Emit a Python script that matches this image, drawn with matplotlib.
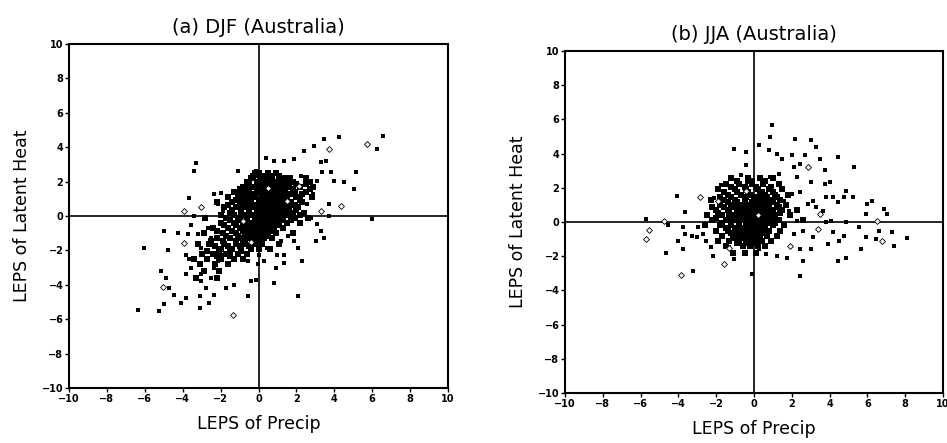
import matplotlib
matplotlib.use("Agg")
import matplotlib.pyplot as plt

# ---------------- Panel (a) DJF ----------------
djf_x_outer = [-6.38, -5.25, -4.97, -6.03, -4.97, -4.8, -5.15, -4.9, -4.7, -4.45, -4.1, -3.83,
               -4.27, -3.66, -3.3, -3.4, -3.39, -3.57, -3.74, -3.83, -3.66, -3.57, -3.83, -3.04,
               -3.04, -2.78, -3.08, -3.08, -2.6, -2.34, -3.22, -3.04, -2.69, -2.51, -2.34, -1.99,
               -2.16, -1.9, -1.99, -2.16, -2.34, -2.51, -1.72, -1.63, -1.28, -1.07, -0.58, -0.4,
               -0.14, -0.58, -0.05, 0.04, 0.39, 0.83, -0.14, -0.05, 1.35, 1.88, 2.41, 2.93, 3.46,
               4.25, 6.27, 6.59, 6.01, 5.04, 5.13, 4.52, 3.99, 3.81, 3.37, 3.55, 3.29, 3.73, 3.73,
               3.46, 3.02, 3.29, 3.11, 2.76, 2.58, 2.32, 2.06, 2.32, 2.06, 1.35, 0.83, 0.91, 0.3,
               0.47, 1.0, 1.35, 1.88, 1.53, 1.18, 2.76, 3.11, 2.93, 2.85, 2.23, 1.7]
djf_y_outer = [-5.45, -5.5, -5.1, -1.85, -0.9, -1.95, -3.2, -3.6, -4.2, -4.6, -5.05, -4.75,
               -0.97, 1.07, 3.1, 2.63, 0.0, -0.5, -1.07, -2.24, -2.5, -3.0, -3.4, -3.4,
               -3.8, -4.2, -4.67, -5.35, -5.06, -4.57, -1.07, -1.85, -0.68, -1.26, 1.26, 1.36,
               0.68, 0.29, -2.24, -2.63, -3.02, -3.6, -4.18, -2.82, -3.99, 2.63, -4.67, -3.8,
               -3.7, -2.63, -2.82, -2.24, 3.4, 3.21, 2.63, 2.33, 3.21, 3.3, 3.8, 4.08, 4.47,
               4.57, 3.89, 4.67, -0.19, 1.56, 2.53, 1.95, 2.04, 2.53, 2.53, 3.21, 3.11, 0.68, 0.0,
               -1.26, -1.46, -0.88, -0.49, -0.1, 0.68, 0.88, -1.85, -2.63, -4.67, -2.72, -3.89, -3.02, -2.63,
               -1.85, -2.24, -2.24, -1.46, -1.17, -1.46, 1.95, 2.04, 1.65, 1.26, 2.33, 2.24]

djf_core_rows_y = [2.5, 2.35, 2.2, 2.0, 1.85, 1.7, 1.55, 1.4, 1.25, 1.1, 0.95, 0.8, 0.65, 0.5,
                   0.35, 0.2, 0.05, -0.1, -0.25, -0.4, -0.55, -0.7, -0.85, -1.0, -1.15,
                   -1.3, -1.45, -1.6, -1.75, -1.9, -2.05, -2.2, -2.35, -2.5, -2.8, -3.2, -3.6]
djf_core_rows_x = [
    [-0.2, 0.0, 0.5, 0.9],
    [-0.3, 0.3, 0.7, 1.1],
    [-0.4, 0.1, 0.6, 1.2, 1.5, 2.5],
    [-0.6, -0.1, 0.3, 0.8, 1.0, 1.3, 1.8, 2.7],
    [-0.5, 0.0, 0.4, 0.7, 1.2, 1.5, 2.0, 2.5],
    [-0.8, -0.3, 0.2, 0.5, 0.9, 1.1, 1.6, 2.2, 2.9],
    [-1.0, -0.6, -0.1, 0.3, 0.7, 1.3, 1.8, 2.7],
    [-1.3, -0.9, -0.5, 0.0, 0.4, 0.7, 1.0, 1.4, 1.9, 2.5],
    [-1.1, -0.7, -0.3, 0.2, 0.5, 0.8, 1.1, 1.7, 2.3],
    [-1.6, -1.0, -0.6, -0.2, 0.3, 0.6, 0.9, 1.2, 1.5, 2.0, 2.8],
    [-1.2, -0.9, -0.5, 0.0, 0.2, 0.5, 1.0, 1.4, 2.2],
    [-2.2, -1.4, -0.8, -0.4, 0.1, 0.4, 0.8, 1.1, 1.3, 1.7, 2.3],
    [-1.6, -1.0, -0.6, -0.2, 0.3, 0.6, 0.9, 1.4, 1.9],
    [-1.8, -1.2, -0.7, -0.3, 0.0, 0.2, 0.5, 0.9, 1.2, 1.6, 2.1],
    [-1.4, -0.9, -0.5, -0.1, 0.1, 0.4, 0.7, 1.1, 1.5, 2.0],
    [-1.5, -0.9, -0.5, -0.1, 0.2, 0.4, 0.7, 1.0, 1.4, 1.8, 2.4],
    [-2.0, -1.3, -0.8, -0.3, 0.0, 0.3, 0.5, 0.8, 1.2, 1.6, 2.2],
    [-2.8, -1.7, -1.1, -0.6, -0.2, 0.1, 0.3, 0.6, 0.9, 1.3, 1.9, 2.6],
    [-1.5, -1.0, -0.6, -0.2, 0.1, 0.4, 0.8, 1.2, 1.7],
    [-2.0, -1.3, -0.8, -0.4, 0.0, 0.3, 0.6, 1.0, 1.5, 2.2],
    [-1.8, -1.2, -0.7, -0.3, 0.0, 0.4, 0.7, 1.1],
    [-2.4, -1.6, -1.0, -0.5, -0.1, 0.2, 0.5, 0.8, 1.3],
    [-2.2, -1.4, -0.8, -0.4, 0.0, 0.3, 0.6],
    [-2.9, -1.9, -1.2, -0.7, -0.3, 0.1, 0.4, 0.9, 1.8],
    [-1.7, -1.1, -0.6, -0.2, 0.2, 0.5],
    [-2.2, -1.5, -0.9, -0.5, -0.1, 0.3, 0.7],
    [-2.5, -1.9, -1.2, -0.8, -0.3, 0.0],
    [-3.2, -2.6, -1.8, -1.2, -0.7, -0.2, 0.2, 1.1],
    [-2.3, -1.6, -1.0, -0.5],
    [-2.0, -1.4, -0.9, -0.4, 0.0, 0.6],
    [-2.7, -2.1, -1.5, -0.9],
    [-3.0, -2.4, -1.7, -1.1, -0.6],
    [-2.2, -1.5],
    [-3.4, -2.7, -2.0, -1.3, -0.8],
    [-3.1, -2.3, -1.6],
    [-2.9, -2.1],
    [-3.3, -2.2],
]

djf_diamond_x = [-5.06, -3.92, -3.04, -3.92, -1.37, 3.73, 5.75, 4.34, 3.29, 2.14, 0.5, -0.8, -0.4, 1.5]
djf_diamond_y = [-4.1, 0.3, 0.53, -1.55, -5.74, 3.89, 4.18, 0.58, 0.29, 1.75, 1.6, -0.3, -1.5, 0.9]

# ---------------- Panel (b) JJA ----------------
jja_x_outer = [-5.69, -4.56, -4.64, -3.22, -4.09, -3.65, -3.74, -3.65, -4.03, -3.74, -3.3, -3.04,
               -2.96, -2.7, -2.52, -2.26, -2.17, -2.09, -1.74, -1.3, -1.04, -0.96, -1.39, -1.04,
               -0.43, -0.43, -0.7, -0.35, -0.09, 0.26, 0.96, 0.87, 0.78, 1.22, 2.17, 3.04, 3.3,
               3.48, 4.43, 3.74, 5.3, 2.7, 2.0, 1.48, 2.09, 2.43, 1.3, 0.87, 2.26, 3.04, 4.0,
               3.74, 4.87, 4.78, 5.22, 4.43, 4.17, 3.83, 6.26, 6.0, 6.87, 7.04, 5.91, 5.57, 6.61,
               6.43, 7.3, 7.39, 8.09, 5.91, 5.65, 4.78, 4.87, 4.43, 4.52, 3.91, 4.17, 3.13, 3.04,
               2.43, 2.61, 2.43, 1.74, 1.22, 0.61, 0.26, 2.09, 2.61, 2.26, 3.65, 3.3, 3.13, 2.87,
               4.09, 4.87, 3.83, 2.43, 2.0, 1.57, 1.83]
jja_y_outer = [0.18, -0.16, -1.84, -2.86, 1.51, 0.57, -0.31, -0.71, -1.14, -1.59, -0.8, -0.9,
               -0.31, -0.71, -1.1, -1.49, -1.98, 1.41, 2.14, -1.49, -2.18, -1.1, -0.51, 4.29,
               4.1, 3.31, 2.73, 2.33, -3.06, 4.49, 5.67, 4.98, 4.2, 4.0, 4.88, 4.78, 4.39,
               3.71, 3.8, 3.02, 3.22, 3.9, 3.9, 3.7, 3.2, 3.41, 2.82, 2.63, 2.63, 2.33, 2.33,
               2.24, 1.84, 1.45, 1.45, 1.16, 1.45, 1.45, 1.25, 1.06, 0.76, 0.47, 0.47, -0.31, -0.51,
               -1.0, -0.61, -1.39, -0.94, -0.9, -1.59, -0.8, -2.08, -2.27, -1.1, -1.29, -0.61, -0.9, -1.59,
               -1.59, -2.27, -3.16, -2.08, -1.98, -1.88, -1.59, -0.71, -0.51, 0.08, 0.67, 0.86, 1.25, 1.06,
               0.08, -0.02, -0.02, 1.75, 1.65, 1.25, 0.67]

jja_core_rows_y = [2.6, 2.4, 2.2, 2.05, 1.9, 1.75, 1.6, 1.45, 1.3, 1.15, 1.0, 0.85, 0.7, 0.55,
                   0.4, 0.25, 0.1, -0.05, -0.2, -0.35, -0.5, -0.65, -0.8, -0.95, -1.1, -1.25,
                   -1.4, -1.8]
jja_core_rows_x = [
    [-1.2, -0.3, 0.3, 1.0],
    [-0.9, -0.1, 0.6],
    [-1.5, -0.8, -0.1, 0.5, 1.3],
    [-1.2, -0.5, 0.1, 0.9],
    [-1.9, -1.0, -0.4, 0.2, 0.8, 1.5],
    [-1.6, -0.9, -0.3, 0.4, 1.0],
    [-1.4, -0.7, -0.2, 0.3, 0.6, 1.1, 1.8],
    [-1.8, -1.2, -0.4, 0.1, 0.7, 1.2],
    [-2.3, -1.6, -1.0, -0.5, 0.0, 0.4, 0.9, 1.4],
    [-1.4, -0.9, -0.5, -0.1, 0.3, 0.7, 1.0],
    [-1.8, -1.2, -0.8, -0.3, 0.1, 0.5, 0.8, 1.2, 1.7],
    [-2.2, -1.6, -1.1, -0.7, -0.4, 0.0, 0.4, 0.8, 1.3],
    [-2.0, -1.4, -0.9, -0.6, -0.2, 0.2, 0.6, 1.0, 1.5, 2.3],
    [-1.9, -1.3, -0.9, -0.5, -0.1, 0.2, 0.5, 0.9, 1.4],
    [-2.5, -1.7, -1.1, -0.7, -0.4, 0.0, 0.3, 0.7, 1.1, 1.9],
    [-2.0, -1.3, -0.8, -0.4, -0.1, 0.2, 0.6, 1.0],
    [-2.2, -1.5, -1.0, -0.6, -0.2, 0.1, 0.5, 0.9, 1.3, 2.6],
    [-1.7, -1.2, -0.8, -0.4, 0.0, 0.3, 0.7, 1.1],
    [-2.6, -1.8, -1.2, -0.8, -0.4, -0.1, 0.2, 0.6, 1.0, 1.6],
    [-1.5, -1.0, -0.6, -0.3, 0.0, 0.3, 0.6],
    [-2.0, -1.4, -0.9, -0.5, -0.2, 0.1, 0.4, 0.8, 1.4],
    [-1.2, -0.8, -0.4, -0.1, 0.2, 0.5],
    [-1.7, -1.1, -0.7, -0.3, 0.0, 0.3, 0.7, 1.2],
    [-1.0, -0.5, -0.1, 0.2],
    [-1.9, -1.3, -0.8, -0.4, 0.0, 0.4, 0.9],
    [-0.9, -0.3, 0.1],
    [-1.5, -0.6, -0.2, 0.2, 0.6],
    [-1.1, -0.5, 0.1],
]

jja_diamond_x = [-5.57, -5.69, -4.78, -3.86, -2.87, -1.88, -1.57, 2.87, 6.52, 6.78, 3.39, 1.91, 3.48, -0.4, 0.2, -1.3]
jja_diamond_y = [-0.47, -1.0, 0.08, -3.1, 1.45, 1.25, -2.47, 3.22, 0.08, -1.1, -0.41, -1.39, 0.47, 1.8, 0.4, -1.5]

ticks = [-10, -8, -6, -4, -2, 0, 2, 4, 6, 8, 10]
tick_labels = [str(t).replace("-", "\u2212") for t in ticks]


def expand_rows(rows_y, rows_x):
    xs, ys = [], []
    for yv, row in zip(rows_y, rows_x):
        for xv in row:
            xs.append(xv)
            ys.append(yv)
    return xs, ys


fig = plt.figure(figsize=(9.47, 4.43), dpi=100)
ax_a = fig.add_axes([0.0729, 0.1242, 0.4002, 0.7765])
ax_b = fig.add_axes([0.5966, 0.1129, 0.3992, 0.7720])

panels = [
    (ax_a, "(a) DJF (Australia)", djf_x_outer, djf_y_outer, djf_core_rows_y, djf_core_rows_x,
     djf_diamond_x, djf_diamond_y),
    (ax_b, "(b) JJA (Australia)", jja_x_outer, jja_y_outer, jja_core_rows_y, jja_core_rows_x,
     jja_diamond_x, jja_diamond_y),
]

for ax, title, xo, yo, cy, cx, dx, dy in panels:
    ax.axhline(0, color="black", lw=1.2, zorder=1)
    ax.axvline(0, color="black", lw=1.2, zorder=1)
    kx, ky = expand_rows(cy, cx)
    ax.scatter(xo, yo, marker="s", s=11, color="black", linewidths=0, zorder=3)
    ax.scatter(kx, ky, marker="s", s=13, color="black", linewidths=0, zorder=3)
    ax.scatter(dx, dy, marker="D", s=9, facecolors="white", edgecolors="black",
               linewidths=0.6, zorder=4)
    ax.set_xlim(-10, 10)
    ax.set_ylim(-10, 10)
    ax.set_xticks(ticks)
    ax.set_yticks(ticks)
    ax.set_xticklabels(tick_labels, fontsize=7, fontweight="bold")
    ax.set_yticklabels(tick_labels, fontsize=7, fontweight="bold")
    ax.tick_params(direction="out", length=3, width=1, pad=1)
    for sp in ax.spines.values():
        sp.set_linewidth(1.5)
    ax.set_title(title, fontsize=14, pad=8)
    ax.set_xlabel("LEPS of Precip", fontsize=12.5, labelpad=8)
    ax.set_ylabel("LEPS of Latent Heat", fontsize=12.5, labelpad=8)

fig.savefig("out.png", dpi=100)
